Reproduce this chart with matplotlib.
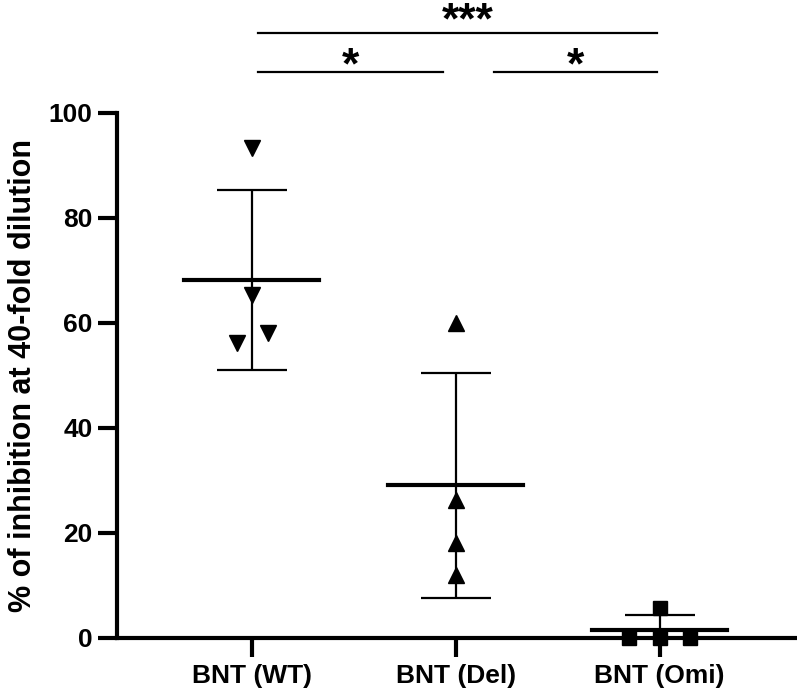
import matplotlib.pyplot as plt
import numpy as np

plt.rcParams["font.family"] = ["Liberation Sans", "DejaVu Sans"]
plt.rcParams["font.weight"] = "bold"

groups = ["BNT (WT)", "BNT (Del)", "BNT (Omi)"]
markers = ["v", "^", "s"]
values = [
    [93.3, 65.3, 58.0, 56.2],
    [60.0, 26.3, 18.1, 12.0],
    [5.8, 0.0, 0.0, 0.0],
]
# horizontal jitter of each point within its column
offsets = [
    [0.0, 0.0, 0.08, -0.07],
    [0.0, 0.0, 0.0, 0.0],
    [0.0, -0.15, 0.0, 0.15],
]
# significance brackets: (start, end, line height, label)
brackets = [
    (0.03, 0.94, 107.8, "*"),
    (1.19, 1.985, 107.8, "*"),
    (0.03, 1.985, 115.2, "***"),
]

fig = plt.figure(figsize=(7.97, 6.94), dpi=100)
ax = fig.add_axes([0.1468, 0.0807, 0.86, 0.7565])

for i, vals in enumerate(values):
    vals = np.array(vals)
    xs = i + np.array(offsets[i])
    ax.plot(xs, vals, linestyle="none", marker=markers[i],
            markersize=11 if markers[i] != "s" else 10,
            color="black", clip_on=False, zorder=3)
    mean = vals.mean()
    sd = vals.std(ddof=1)
    ax.plot([i - 0.33, i + 0.33], [mean, mean], color="black", lw=3, zorder=2,
            clip_on=False)
    ax.errorbar(i, mean, yerr=sd, fmt="none", ecolor="black", elinewidth=1.6,
                capsize=25, capthick=1.6, zorder=2)

ax.set_xlim(-0.66, 2.7)
ax.set_ylim(0, 100)
ax.set_xticks(range(len(groups)))
ax.set_xticklabels(groups, fontsize=20, fontweight="bold")
ax.set_yticks([0, 20, 40, 60, 80, 100])
ax.tick_params(axis="both", length=14, width=3, labelsize=19)
for lab in ax.get_yticklabels():
    lab.set_fontweight("bold")
ax.tick_params(axis="x", pad=5)
ax.set_ylabel("% of inhibition at 40-fold dilution", fontsize=22,
              fontweight="bold", labelpad=8)

for s in ["top", "right"]:
    ax.spines[s].set_visible(False)
for s in ["left", "bottom"]:
    ax.spines[s].set_linewidth(3)

for x0, x1, yl, lab in brackets:
    ax.plot([x0, x1], [yl, yl], color="black", lw=1.6, clip_on=False)
    xc = (x0 + x1) / 2 + (0.05 if lab == "***" else 0.0)
    dy = 0.0 if lab == "***" else -1.3
    ax.text(xc, yl + dy, lab, ha="center", va="baseline",
            fontsize=32, fontweight="bold")

fig.savefig("out.png", dpi=100)
